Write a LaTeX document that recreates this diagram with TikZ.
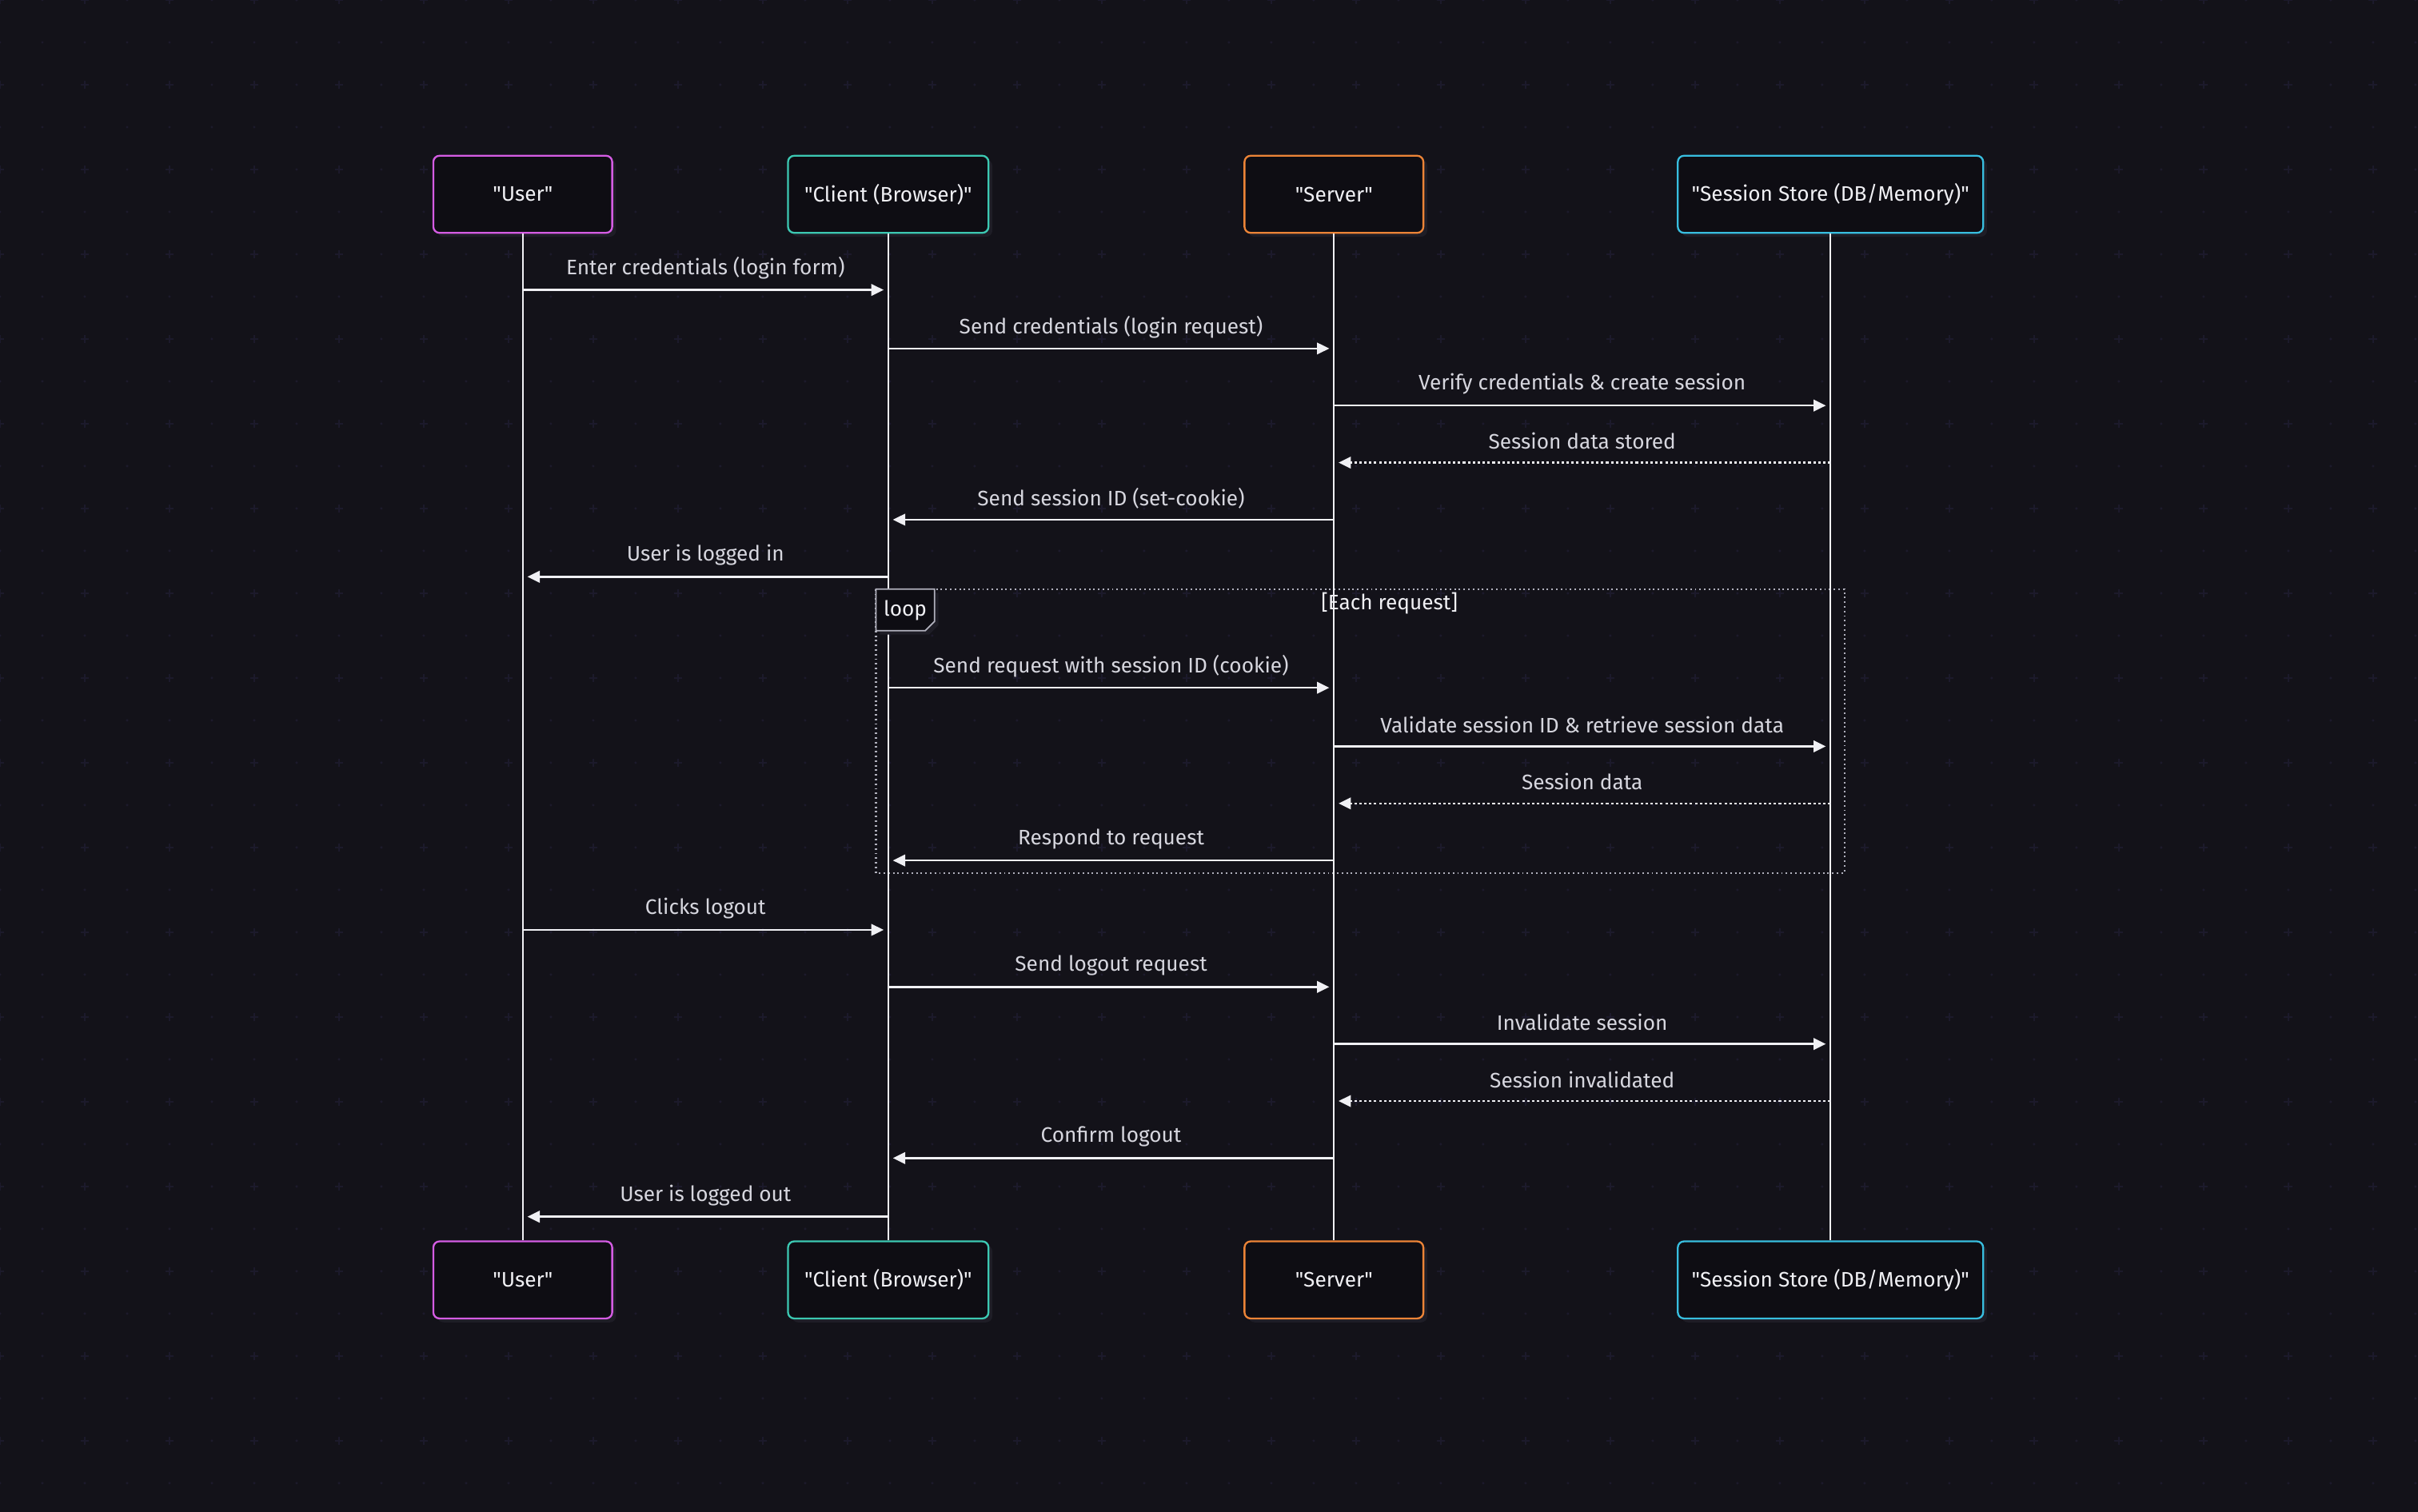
\documentclass[tikz,border=0pt]{standalone}
\usepackage{fontspec}
\newfontfamily\lfont{Fira Sans}
\usetikzlibrary{arrows.meta}
\definecolor{bg}{HTML}{131219}
\definecolor{pat}{HTML}{1C1A2B}
\definecolor{boxfill}{HTML}{0E0D13}
\definecolor{shadowc}{HTML}{1E1D26}
\definecolor{cuser}{HTML}{D45CE3}
\definecolor{cclient}{HTML}{3CC8B2}
\definecolor{cserver}{HTML}{EC8437}
\definecolor{cstore}{HTML}{38BEDF}
\definecolor{linec}{HTML}{F0F0F4}
\definecolor{labc}{HTML}{D6D6DE}
\definecolor{loopc}{HTML}{B0B0BC}
\tikzset{
  actor/.style={draw=#1, line width=1.2pt, rounded corners=4pt, fill=boxfill,
    minimum height=50pt, text=linec, font=\lfont\fontsize{13.6}{15}\selectfont, inner sep=0pt,
    preaction={fill=shadowc, rounded corners=4pt, transform canvas={shift={(2.5pt,-2.5pt)}}}},
  life/.style={draw=linec, line width=1.2pt},
  msg/.style={draw=linec, line width=1.3pt, -{Triangle[length=8pt,width=7.5pt]}, shorten >=3pt},
  reply/.style={msg, dash pattern=on 1.6pt off 1.6pt},
  lab/.style={text=labc, font=\lfont\fontsize{13.6}{15}\selectfont, inner sep=0pt},
  frame/.style={draw=loopc, line width=1.1pt, dash pattern=on 1pt off 2pt},
}
\newcommand{\seqmsg}[5]{%
  \draw[#5] (#1.south |- 0,#3) -- (#2.south |- 0,#3) coordinate[midway] (m#3);
  \node[lab] at ([yshift=14pt]m#3) {#4};
}
\begin{document}
\begin{tikzpicture}[x=1pt,y=-1pt]
\useasboundingbox (0,0) rectangle (1568,980);
\fill[bg] (-3,-3) rectangle (1571,983);
% background pattern
\foreach \i in {0,...,57}{
  \foreach \j in {0,...,36}{
    \pgfmathtruncatemacro{\pi}{mod(\i,2)+mod(\j,2)}
    \ifnum\pi=0
      \fill[pat] ({\i*27.48-2.8},{\j*27.48-0.6}) rectangle ({\i*27.48+2.8},{\j*27.48+0.6});
      \fill[pat] ({\i*27.48-0.6},{\j*27.48-2.8}) rectangle ({\i*27.48+0.6},{\j*27.48+2.8});
    \else
      \fill[pat] ({\i*27.48},{\j*27.48}) circle (0.9);
    \fi
  }
}
% loop frame
\draw[frame] (568,382) rectangle (1196,566);
\node[lab, text=linec] (each) at (901,391.5) {[Each request]};
% participants
\node[actor=cuser, minimum width=116pt] (u1) at (339,126) {"User"};
\node[actor=cclient, minimum width=130pt] (c1) at (576,126) {"Client (Browser)"};
\node[actor=cserver, minimum width=116pt] (s1) at (865,126) {"Server"};
\node[actor=cstore, minimum width=198pt] (d1) at (1187,126) {"Session Store (DB/Memory)"};
\node[actor=cuser, minimum width=116pt] (u2) at (339,830) {"User"};
\node[actor=cclient, minimum width=130pt] (c2) at (576,830) {"Client (Browser)"};
\node[actor=cserver, minimum width=116pt] (s2) at (865,830) {"Server"};
\node[actor=cstore, minimum width=198pt] (d2) at (1187,830) {"Session Store (DB/Memory)"};
% lifelines
\draw[life] (u1.south) -- (u2.north);
\draw[life] (c1.south) -- (c2.north);
\draw[life] (s1.south) -- (s2.north);
\draw[life] (d1.south) -- (d2.north);
% loop tab
\fill[shadowc] (570.5,384.5) -- (608.5,384.5) -- (608.5,405.5) -- (602.5,411.5) -- (570.5,411.5) -- cycle;
\draw[loopc, line width=0.9pt, fill=boxfill] (568,382) -- (606,382) -- (606,403) -- (600,409) -- (568,409) -- cycle;
\node[lab, text=linec] (looplab) at (587,396) {loop};
% messages
\seqmsg{u1}{c1}{188}{Enter credentials (login form)}{msg}
\seqmsg{c1}{s1}{226}{Send credentials (login request)}{msg}
\seqmsg{s1}{d1}{263}{Verify credentials \& create session}{msg}
\seqmsg{d1}{s1}{300}{Session data stored}{reply}
\seqmsg{s1}{c1}{337}{Send session ID (set-cookie)}{msg}
\seqmsg{c1}{u1}{374}{User is logged in}{msg}
\seqmsg{c1}{s1}{446}{Send request with session ID (cookie)}{msg}
\seqmsg{s1}{d1}{484}{Validate session ID \& retrieve session data}{msg}
\seqmsg{d1}{s1}{521}{Session data}{reply}
\seqmsg{s1}{c1}{558}{Respond to request}{msg}
\seqmsg{u1}{c1}{603}{Clicks logout}{msg}
\seqmsg{c1}{s1}{640}{Send logout request}{msg}
\seqmsg{s1}{d1}{677}{Invalidate session}{msg}
\seqmsg{d1}{s1}{714}{Session invalidated}{reply}
\seqmsg{s1}{c1}{751}{Confirm logout}{msg}
\seqmsg{c1}{u1}{789}{User is logged out}{msg}
\end{tikzpicture}
\end{document}
